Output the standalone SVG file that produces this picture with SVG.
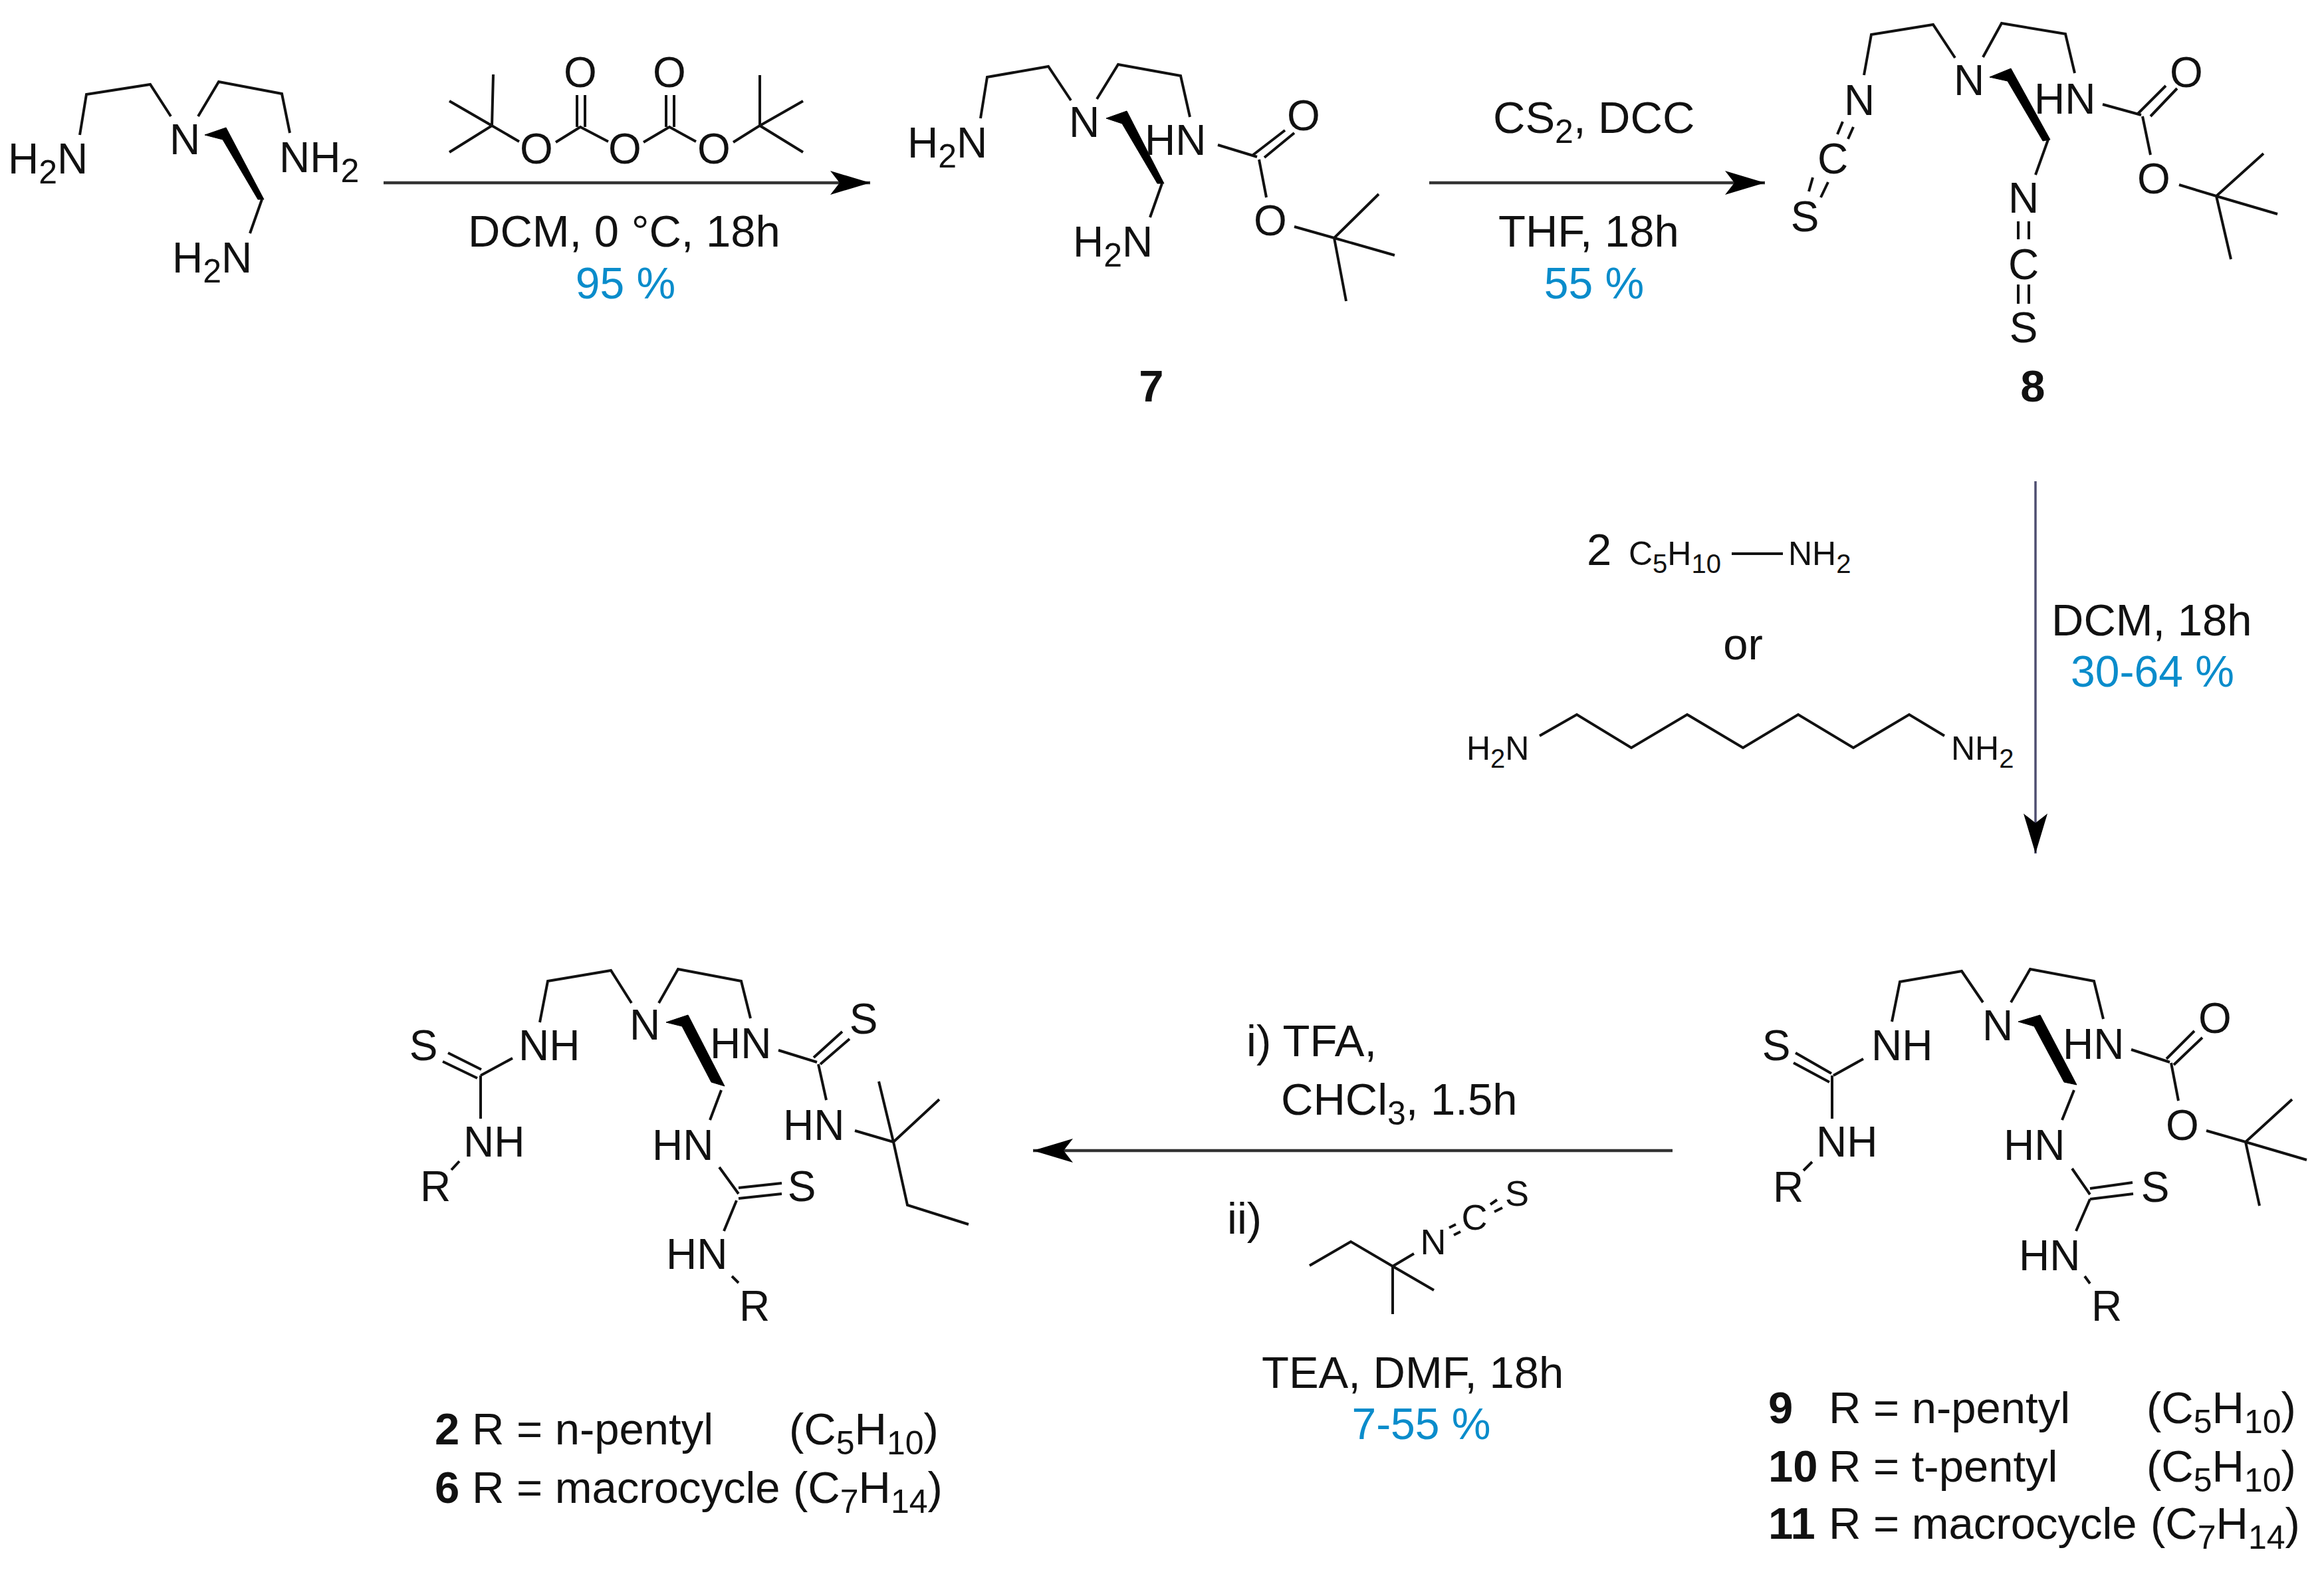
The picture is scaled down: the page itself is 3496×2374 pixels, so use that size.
<svg xmlns="http://www.w3.org/2000/svg" width="3496" height="2374" viewBox="0 0 3496 2374">
<style>
text{font-family:"Liberation Sans",Arial,sans-serif;fill:#111}
.a{font-size:64px}.c{text-anchor:middle}.r{font-size:67px}.s{font-size:50px}.y{font-size:66px;fill:#0a8ccb;text-anchor:middle}
.b{font-weight:bold}
.k{fill:none;stroke:#111;stroke-width:4;stroke-linecap:butt;stroke-linejoin:miter}
.w{fill:#000;stroke:#000;stroke-width:1}
.ar{fill:none;stroke:#333;stroke-width:4.5}
.iso{font-size:54px;text-anchor:middle}
.m{font-size:50px}.n{font-size:40px}
</style>
<defs>
<marker id="head" markerUnits="userSpaceOnUse" markerWidth="64" markerHeight="40" refX="60" refY="20" orient="auto"><path d="M0 2L60 20L0 38L14 20Z" fill="#000"/></marker>
</defs>
<g id="connectors">
<path class="ar" marker-end="url(#head)" d="M577 275H1309"/>
<path class="ar" marker-end="url(#head)" d="M2150 275H2655"/>
<path class="ar" style="stroke:#4e4e70;stroke-width:3.5" marker-end="url(#head)" d="M3062 724V1284"/>
<path class="ar" marker-end="url(#head)" d="M2516 1731H1554"/>
</g>
<g id="triamine">
<path class="k" d="M120 203L130 142L226 127L257 175M298 175L329 123L424 141L436 200M394 300L376 351"/>
<path class="w" d="M308 203L340 192L397 300L388 300L335 210Z"/>
<text class="a" x="12" y="261">H<tspan class="s" dy="15">2</tspan><tspan dy="-15">N</tspan></text>
<text class="a c" x="278" y="232">N</text>
<text class="a" x="420" y="259">NH<tspan class="s" dy="15">2</tspan></text>
<text class="a" x="259" y="410">H<tspan class="s" dy="15">2</tspan><tspan dy="-15">N</tspan></text>
</g>
<g id="boc2o">
<path class="k" d="M742 112L740 189L676 152M676 229L740 189L781 213M836 214L873 191L915 213M968 214L1007 191L1047 213M1103 214L1143 189L1143 113M1208 152L1143 189L1208 229M868 143V191M880 143V191M1002 143V191M1014 143V191"/>
<text class="a c" x="807" y="246">O</text><text class="a c" x="940" y="246">O</text><text class="a c" x="1074" y="246">O</text>
<text class="a c" x="873" y="131">O</text><text class="a c" x="1007" y="131">O</text>
</g>
<g id="cond1">
<text class="r" x="704" y="371">DCM, 0 °C, 18h</text>
<text class="y" x="941" y="449">95 %</text>
</g>
<g id="compound7">
<path class="k" d="M1475 178L1485 116L1577 100L1611 151M1650 149L1682 97L1776 114L1790 176M1748 276L1730 327M1832 218L1891 236M1885 233L1933 196M1902 237L1947 200M1894 240L1905 297M1947 341L2007 358L2074 292M2007 358L2098 384M2007 358L2025 453"/>
<path class="w" d="M1664 178L1695 167L1751 276L1741 276L1688 186Z"/>
<text class="a" x="1365" y="237">H<tspan class="s" dy="15">2</tspan><tspan dy="-15">N</tspan></text>
<text class="a c" x="1631" y="206">N</text>
<text class="a" x="1722" y="233">HN</text>
<text class="a" x="1614" y="386">H<tspan class="s" dy="15">2</tspan><tspan dy="-15">N</tspan></text>
<text class="a c" x="1961" y="196">O</text>
<text class="a c" x="1911" y="354">O</text>
<text class="r b c" x="1732" y="604">7</text>
</g>
<g id="cond2">
<text class="r" x="2246" y="200">CS<tspan class="s" dy="15">2</tspan><tspan dy="-15">, DCC</tspan></text>
<text class="r" x="2254" y="371">THF, 18h</text>
<text class="y" x="2398" y="449">55 %</text>
</g>
<g id="compound8">
<path class="k" d="M2804 113L2815 52L2908 37L2941 87M2983 86L3011 35L3107 51L3121 110M3081 210L3062 263M3036 333V360M3052 333V360M3036 428V457M3052 428V457M2772 183L2764 202M2788 191L2780 209M2727 267L2721 288M2750 274L2739 297M3163 157L3221 173M3216 171L3258 129M3235 175L3275 133M3223 175L3235 233M3278 278L3334 295L3405 231M3334 295L3426 322M3334 295L3356 390"/>
<path class="w" d="M2993 116L3025 103L3084 210L3073 212L3020 122Z"/>
<text class="a c" x="2797" y="173">N</text>
<text class="a c" x="2962" y="143">N</text>
<text class="a" x="3060" y="171">HN</text>
<text class="a c" x="3044" y="320">N</text>
<text class="a c" x="3044" y="420">C</text>
<text class="a c" x="3044" y="515">S</text>
<text class="a c" x="2757" y="261">C</text>
<text class="a c" x="2715" y="348">S</text>
<text class="a c" x="3289" y="131">O</text>
<text class="a c" x="3240" y="291">O</text>
<text class="r b c" x="3058" y="604">8</text>
</g>
<g id="amines">
<path class="k" d="M2605 833H2682M2316 1107L2372 1075L2454 1125L2538 1075L2622 1125L2705 1075L2788 1125L2872 1075L2925 1107"/>
<text class="r" x="2387" y="850">2</text>
<text class="m" x="2450" y="850">C<tspan class="n" dy="12">5</tspan><tspan dy="-12">H</tspan><tspan class="n" dy="12">10</tspan></text>
<text class="m" x="2690" y="850">NH<tspan class="n" dy="12">2</tspan></text>
<text class="r c" x="2622" y="992">or</text>
<text class="m" x="2206" y="1143">H<tspan class="n" dy="12">2</tspan><tspan dy="-12">N</tspan></text>
<text class="m" x="2935" y="1143">NH<tspan class="n" dy="12">2</tspan></text>
</g>
<g id="cond3">
<text class="r" x="3086" y="956">DCM, 18h</text>
<text class="y" x="3238" y="1033">30-64 %</text>
</g>
<g id="compound9">
<path class="k" d="M2846 1537L2858 1477L2951 1461L2983 1508M3025 1508L3054 1458L3150 1476L3164 1533M3120 1640L3102 1685M3117 1758L3144 1797M3144 1788L3208 1779M3144 1804L3209 1796M3144 1804L3123 1852M3136 1920L3144 1931M2758 1618L2803 1593M2701 1584L2755 1615M2698 1599L2752 1628M2756 1618V1683M2726 1748L2713 1761M3206 1579L3264 1598M3259 1593L3301 1551M3270 1602L3313 1561M3266 1599L3277 1656M3319 1701L3378 1718L3448 1654M3378 1718L3470 1745M3378 1718L3399 1814"/>
<path class="w" d="M3036 1537L3069 1527L3124 1632L3105 1628L3060 1544Z"/>
<text class="a c" x="2672" y="1595">S</text>
<text class="a" x="2815" y="1595">NH</text>
<text class="a c" x="3005" y="1565">N</text>
<text class="a" x="3103" y="1593">HN</text>
<text class="a" x="3014" y="1745">HN</text>
<text class="a c" x="3242" y="1808">S</text>
<text class="a" x="3037" y="1911">HN</text>
<text class="a c" x="3169" y="1987">R</text>
<text class="a" x="2732" y="1740">NH</text>
<text class="a c" x="2690" y="1808">R</text>
<text class="a c" x="3332" y="1554">O</text>
<text class="a c" x="3283" y="1715">O</text>
</g>
<g id="legend9">
<text class="r b" x="2660" y="2141">9</text><text class="r" x="2751" y="2141">R = n-pentyl</text><text class="r" x="3229" y="2141">(C<tspan class="s" dy="15">5</tspan><tspan dy="-15">H</tspan><tspan class="s" dy="15">10</tspan><tspan dy="-15">)</tspan></text>
<text class="r b" x="2660" y="2229">10</text><text class="r" x="2751" y="2229">R = t-pentyl</text><text class="r" x="3229" y="2229">(C<tspan class="s" dy="15">5</tspan><tspan dy="-15">H</tspan><tspan class="s" dy="15">10</tspan><tspan dy="-15">)</tspan></text>
<text class="r b" x="2660" y="2315">11</text><text class="r" x="2751" y="2315">R = macrocycle</text><text class="r" x="3235" y="2315">(C<tspan class="s" dy="15">7</tspan><tspan dy="-15">H</tspan><tspan class="s" dy="15">14</tspan><tspan dy="-15">)</tspan></text>
</g>
<g id="cond4">
<text class="r" x="1875" y="1589">i) TFA,</text>
<text class="r" x="1927" y="1677">CHCl<tspan class="s" dy="15">3</tspan><tspan dy="-15">, 1.5h</tspan></text>
<text class="r" x="1846" y="1856">ii)</text>
<path class="k" d="M1970 1904L2032 1868L2095 1905L2157 1941M2095 1905V1977M2095 1905L2127 1886M2180 1847L2190 1842M2187 1858L2197 1853M2242 1812L2252 1805M2248 1823L2260 1817"/>
<text class="iso" x="2156" y="1887">N</text>
<text class="iso" x="2218" y="1850">C</text>
<text class="iso" x="2282" y="1814">S</text>
<text class="r" x="1898" y="2088">TEA, DMF, 18h</text>
<text class="y" x="2138" y="2165">7-55 %</text>
</g>
<g id="compound2">
<path class="k" d="M812 1538L824 1476L919 1460L950 1509M991 1509L1020 1458L1115 1476L1129 1532M1085 1640L1068 1685M1082 1756L1111 1796M1111 1787L1176 1780M1111 1803L1176 1796M1108 1806L1089 1852M1101 1920L1111 1930M723 1618L771 1592M674 1584L724 1609M666 1597L718 1622M723 1618V1683M691 1747L679 1760M1171 1580L1229 1598M1224 1591L1267 1552M1234 1601L1278 1563M1231 1601L1243 1655M1286 1701L1344 1718L1322 1627M1344 1718L1413 1654M1344 1718L1365 1813L1457 1842"/>
<path class="w" d="M1002 1538L1035 1527L1090 1634L1070 1628L1026 1544Z"/>
<text class="a c" x="637" y="1595">S</text>
<text class="a" x="780" y="1595">NH</text>
<text class="a c" x="970" y="1564">N</text>
<text class="a" x="1068" y="1592">HN</text>
<text class="a" x="981" y="1745">HN</text>
<text class="a c" x="1206" y="1807">S</text>
<text class="a" x="1002" y="1909">HN</text>
<text class="a c" x="1135" y="1987">R</text>
<text class="a" x="697" y="1740">NH</text>
<text class="a c" x="655" y="1807">R</text>
<text class="a c" x="1299" y="1555">S</text>
<text class="a" x="1178" y="1715">HN</text>
</g>
<g id="legend2">
<text class="r b" x="654" y="2173">2</text><text class="r" x="710" y="2173">R = n-pentyl</text><text class="r" x="1187" y="2173">(C<tspan class="s" dy="15">5</tspan><tspan dy="-15">H</tspan><tspan class="s" dy="15">10</tspan><tspan dy="-15">)</tspan></text>
<text class="r b" x="654" y="2261">6</text><text class="r" x="710" y="2261">R = macrocycle</text><text class="r" x="1193" y="2261">(C<tspan class="s" dy="15">7</tspan><tspan dy="-15">H</tspan><tspan class="s" dy="15">14</tspan><tspan dy="-15">)</tspan></text>
</g>
</svg>
